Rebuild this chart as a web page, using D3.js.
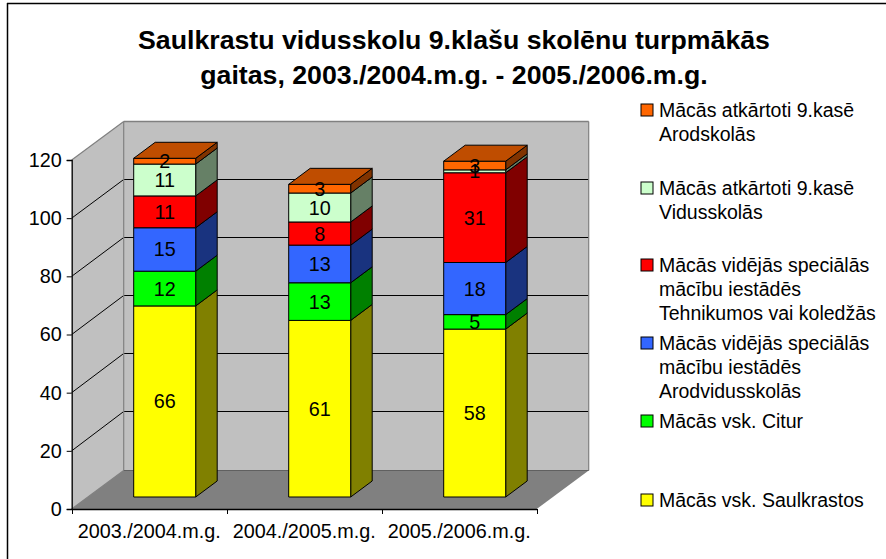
<!DOCTYPE html>
<html><head><meta charset="utf-8">
<script src="https://cdnjs.cloudflare.com/ajax/libs/d3/7.8.5/d3.min.js"></script>
<style>html,body{margin:0;padding:0;background:#fff}svg{display:block}text{font-family:"Liberation Sans",Arial,sans-serif;fill:#000}</style>
</head><body><svg id="c" width="886" height="559"></svg>
<script>
const titleLines=["Saulkrastu vidusskolu 9.klašu skolēnu turpmākās","gaitas, 2003./2004.m.g. - 2005./2006.m.g."];
const categories=["2003./2004.m.g.","2004./2005.m.g.","2005./2006.m.g."];
const saulkrastos=[66,61,58];
const citur=[12,13,5];
const arodvidusskolas=[15,13,18];
const tehnikumos=[11,8,31];
const vidusskolas=[11,10,1];
const arodskolas=[2,3,3];
const yTicks=[0,20,40,60,80,100,120];
const seriesList=[
 {values:saulkrastos,front:"#ffff00",side:"#808000",top:"#bfbf00",legend:["Mācās vsk. Saulkrastos"],ly:500},
 {values:citur,front:"#00ff00",side:"#008000",top:"#00bf00",legend:["Mācās vsk. Citur"],ly:421},
 {values:arodvidusskolas,front:"#3366ff",side:"#19337f",top:"#264cbf",legend:["Mācās vidējās speciālās","mācību iestādēs","Arodvidusskolās"],ly:343},
 {values:tehnikumos,front:"#ff0000",side:"#800000",top:"#bf0000",legend:["Mācās vidējās speciālās","mācību iestādēs","Tehnikumos vai koledžās"],ly:265},
 {values:vidusskolas,front:"#ccffcc",side:"#668066",top:"#99bf99",legend:["Mācās atkārtoti 9.kasē","Vidusskolās"],ly:188},
 {values:arodskolas,front:"#ff6600",side:"#803300",top:"#bf4d00",legend:["Mācās atkārtoti 9.kasē","Arodskolās"],ly:110}
];
const svg=d3.select("#c");
const x=d3.scaleBand().domain(categories).range([71.7,536.7]);
const y=d3.scaleLinear().domain([0,120]).range([509,160]);
const yBar=d3.scaleLinear().domain([0,120]).range([497,149.6]);
const wallDx=52,wallDy=-38.5;
const barDepthDx=21.5,barDepthDy=-16;
const barShift=15.5,barW=62;
const poly=pts=>pts.map(p=>p.join(",")).join(" ");
const line=(a,b,c,w=1)=>svg.append("line").attr("x1",a[0]).attr("y1",a[1]).attr("x2",b[0]).attr("y2",b[1]).attr("stroke",c).attr("stroke-width",w);

// frame
line([7,3.5],[886,3.5],"#000",1.5);
line([7.5,3],[7.5,559],"#000",1.5);

// title
svg.append("g").selectAll("text").data(titleLines).join("text")
 .attr("x",454).attr("y",(d,i)=>49+i*35).attr("text-anchor","middle")
 .attr("font-size",26.7).attr("font-weight","bold").text(d=>d);

// walls and floor
const x0=x.range()[0],x1=x.range()[1],y0=y(0),yT=y(120);
svg.append("polygon").attr("points",poly([[x0,y0],[x0+wallDx,y0+wallDy],[x0+wallDx,yT+wallDy],[x0,yT]])).attr("fill","#c0c0c0");
svg.append("polygon").attr("points",poly([[x0+wallDx,y0+wallDy],[x1+wallDx,y0+wallDy],[x1+wallDx,yT+wallDy],[x0+wallDx,yT+wallDy]])).attr("fill","#c0c0c0");
svg.append("polygon").attr("points",poly([[x0,y0],[x0+wallDx,y0+wallDy],[x1+wallDx,y0+wallDy],[x1,y0]])).attr("fill","#808080");

// gridlines
yTicks.slice(1,-1).forEach(t=>{
 const py=Math.round(y(t)+wallDy-1)+.5;
 line([x0,y(t)],[x0+wallDx,py],"#000");
 line([x0+wallDx,py],[x1+wallDx,py],"#000");
});
// wall edges
line([x0,yT],[x0+wallDx,yT+wallDy],"#808080",1.2);
line([x0+wallDx,yT+wallDy],[x1+wallDx,yT+wallDy],"#808080",1.5);
line([x1+wallDx,yT+wallDy],[x1+wallDx,y0+wallDy],"#808080",1.2);
line([x0+wallDx,yT+wallDy],[x0+wallDx,y0+wallDy],"#808080",1.2);
line([x0,y0],[x0+wallDx,y0+wallDy],"#808080",1.2);
line([x0+wallDx,y0+wallDy],[x1+wallDx,y0+wallDy],"#606060",1.2);

// bars
const labels=[];
categories.forEach((c,ci)=>{
 const cx=x(c)+x.bandwidth()/2+barShift;
 const l=cx-barW/2,r=cx+barW/2;
 let acc=0;
 seriesList.forEach((s,si)=>{
  const v=s.values[ci];
  const b=yBar(acc),t=yBar(acc+v);
  const g=svg.append("g").attr("stroke","#000").attr("stroke-width",1).attr("stroke-linejoin","round");
  g.append("polygon").attr("points",poly([[r,b],[r+barDepthDx,b+barDepthDy],[r+barDepthDx,t+barDepthDy],[r,t]])).attr("fill",s.side);
  g.append("polygon").attr("points",poly([[l,b],[r,b],[r,t],[l,t]])).attr("fill",s.front);
  if(si===seriesList.length-1)
   g.append("polygon").attr("points",poly([[l,t],[r,t],[r+barDepthDx,t+barDepthDy],[l+barDepthDx,t+barDepthDy]])).attr("fill",s.top);
  labels.push({x:cx,y:(b+t)/2,v});
  acc+=v;
 });
});
svg.append("g").selectAll("text").data(labels).join("text")
 .attr("x",d=>d.x).attr("y",d=>d.y+7).attr("text-anchor","middle").attr("font-size",19.8).text(d=>d.v);

// axes
const ax=svg.append("g").attr("transform",`translate(${x0},0)`)
 .call(d3.axisLeft(y).tickValues(yTicks).tickSize(5).tickPadding(5));
ax.selectAll("text").attr("font-size",19.8).attr("font-family",null);
ax.selectAll("line,path").attr("stroke","#000");
ax.select("path").attr("stroke-width",1.3);
const bx=svg.append("g").attr("transform",`translate(0,${y0})`)
 .call(d3.axisBottom(x).tickSize(0).tickPadding(15));
bx.selectAll("text").attr("font-size",19.8).attr("font-family",null);
bx.select("path").attr("stroke","#000").attr("stroke-width",1.5);
d3.range(categories.length+1).forEach(i=>{
 const px=Math.round(x0+i*x.step())+.5;
 line([px,y0],[px,y0+5],"#000");
});

// legend
const lg=svg.append("g");
seriesList.forEach(s=>{
 lg.append("rect").attr("x",641).attr("y",s.ly-6).attr("width",12).attr("height",12)
  .attr("fill",s.front).attr("stroke","#000").attr("stroke-width",1);
 s.legend.forEach((t,i)=>lg.append("text").attr("x",659).attr("y",s.ly+7+i*24).attr("font-size",19.5).text(t));
});
</script></body></html>
